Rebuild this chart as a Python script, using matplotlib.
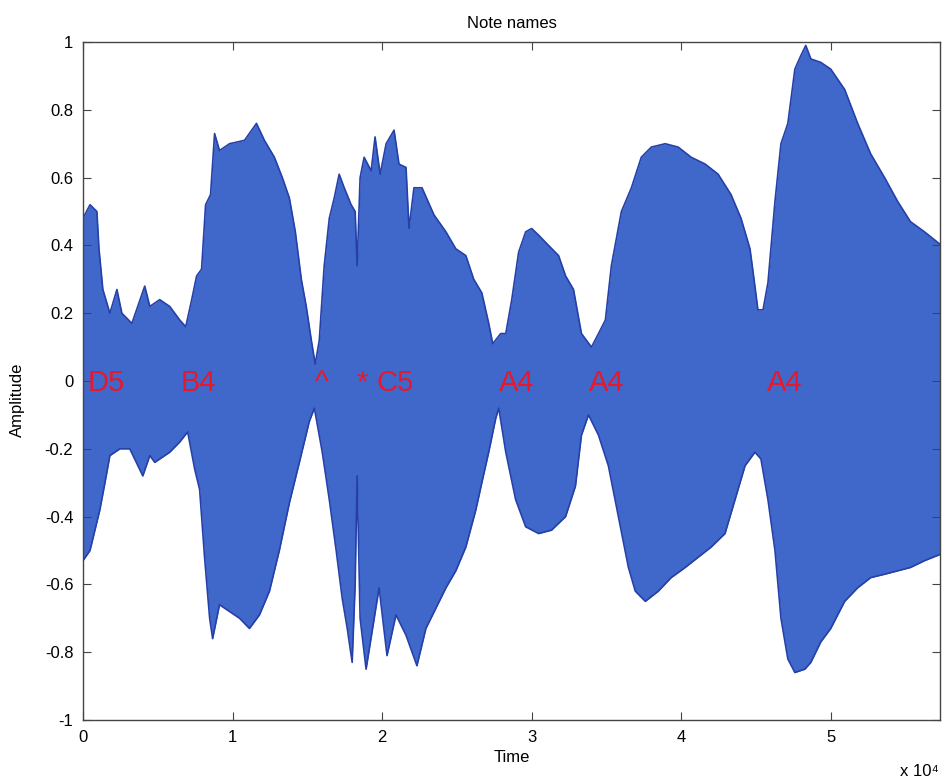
import matplotlib
matplotlib.use('Agg')
import matplotlib.pyplot as plt

# Hüllkurve des Signals (Sample-Index, Amplitude)
upper_t = [0, 470, 930, 1070, 1330, 1800, 2270, 2600, 3270, 4130, 4470, 5130,
           5800, 6470, 6870, 7270, 7600, 7930, 8200, 8530, 8800, 9130, 9800,
           10800, 11600, 12130, 12800, 13330, 13800, 14200, 14600, 14930, 15270,
           15530, 15800, 16130, 16470, 16800, 17130, 17470, 17930, 18200, 18330,
           18530, 18800, 19270, 19530, 19870, 20270, 20800, 21130, 21600, 21800,
           22130, 22670, 23470, 24270, 24930, 25600, 26130, 26670, 27130, 27400,
           27930, 28270, 28670, 29130, 29600, 30000, 30470, 31130, 31800, 32270,
           32800, 33330, 34000, 34470, 34930, 35330, 36000, 36670, 37330, 38000,
           38930, 39800, 40670, 41600, 42470, 43330, 44000, 44600, 44870, 45130,
           45470, 45800, 46270, 46670, 47130, 47600, 48000, 48330, 48670, 49330,
           50000, 50930, 51800, 52670, 53600, 54470, 55330, 56270, 57400]
upper_v = [0.48, 0.52, 0.50, 0.39, 0.27, 0.20, 0.27, 0.20, 0.17, 0.28, 0.22, 0.24,
           0.22, 0.18, 0.16, 0.24, 0.31, 0.33, 0.52, 0.55, 0.73, 0.68, 0.70,
           0.71, 0.76, 0.71, 0.66, 0.60, 0.54, 0.44, 0.30, 0.22, 0.12,
           0.05, 0.12, 0.34, 0.48, 0.54, 0.61, 0.57, 0.52, 0.50, 0.34,
           0.60, 0.66, 0.62, 0.72, 0.61, 0.70, 0.74, 0.64, 0.63, 0.45,
           0.57, 0.57, 0.49, 0.44, 0.39, 0.37, 0.30, 0.26, 0.17, 0.11,
           0.14, 0.14, 0.24, 0.38, 0.44, 0.45, 0.43, 0.40, 0.37, 0.31,
           0.27, 0.14, 0.10, 0.14, 0.18, 0.34, 0.50, 0.57, 0.66, 0.69,
           0.70, 0.69, 0.66, 0.64, 0.61, 0.55, 0.48, 0.39, 0.30, 0.21,
           0.21, 0.29, 0.53, 0.70, 0.76, 0.92, 0.96, 0.99, 0.95, 0.94,
           0.92, 0.86, 0.76, 0.67, 0.60, 0.53, 0.47, 0.44, 0.40]

lower_t = [0, 470, 800, 1130, 1470, 1800, 2470, 3130, 4000, 4470, 4800, 5800,
           6470, 7000, 7470, 7800, 8130, 8470, 8670, 9130, 9800, 10470, 11130,
           11800, 12470, 13130, 13800, 14470, 15130, 15470, 16000, 16470, 16930,
           17330, 17670, 18000, 18200, 18330, 18530, 18930, 19330, 19800, 20330,
           20930, 21600, 22330, 22930, 23600, 24270, 24930, 25600, 26270, 26670,
           27130, 27600, 27800, 28270, 28930, 29600, 30470, 31330, 32270, 32930,
           33330, 33800, 34470, 35130, 35800, 36470, 36930, 37600, 38470, 39330,
           40270, 41130, 42000, 42930, 43600, 44270, 44930, 45330, 45800, 46270,
           46670, 47130, 47600, 48270, 48670, 49330, 50000, 50930, 51800, 52670,
           53600, 54470, 55330, 56270, 57400]
lower_v = [-0.53, -0.50, -0.44, -0.38, -0.30, -0.22, -0.20, -0.20, -0.28, -0.22, -0.24, -0.21,
           -0.18, -0.15, -0.26, -0.32, -0.52, -0.70, -0.76, -0.66, -0.68, -0.70, -0.73,
           -0.69, -0.62, -0.50, -0.36, -0.24, -0.12, -0.08, -0.21, -0.35, -0.50,
           -0.64, -0.73, -0.83, -0.60, -0.28, -0.70, -0.85, -0.74, -0.61, -0.81,
           -0.69, -0.75, -0.84, -0.73, -0.67, -0.61, -0.56, -0.49, -0.38, -0.30,
           -0.21, -0.11, -0.08, -0.21, -0.35, -0.43, -0.45, -0.44, -0.40, -0.31,
           -0.16, -0.10, -0.16, -0.25, -0.40, -0.55, -0.62, -0.65, -0.62, -0.58,
           -0.55, -0.52, -0.49, -0.45, -0.35, -0.25, -0.21, -0.23, -0.35, -0.50,
           -0.70, -0.82, -0.86, -0.85, -0.83, -0.77, -0.73, -0.65, -0.61, -0.58,
           -0.57, -0.56, -0.55, -0.53, -0.51]

# Notennamen und ihre Einsatzpunkte (Sample-Index)
note_names = ['D5', 'B4', '^', '*', 'C5', 'A4', 'A4', 'A4']
note_pos = [300, 6500, 15500, 18300, 19600, 27800, 33800, 45700]

x_ticks = [0, 10000, 20000, 30000, 40000, 50000]
x_ticklabels = ['0', '1', '2', '3', '4', '5']
y_ticks = [-1, -0.8, -0.6, -0.4, -0.2, 0, 0.2, 0.4, 0.6, 0.8, 1]
y_ticklabels = ['-1', '-0.8', '-0.6', '-0.4', '-0.2', '0', '0.2', '0.4', '0.6', '0.8', '1']

plt.rcParams['font.family'] = ['Liberation Sans', 'DejaVu Sans']

fig = plt.figure(figsize=(9.44, 7.81), dpi=100)
ax = fig.add_axes([0.0879, 0.0781, 0.9078, 0.8681])

# beide Hälften etwas überlappen lassen, damit keine Naht bei 0 entsteht
ax.fill_between(upper_t, upper_v, -0.05, color='#3f68ca', lw=0)
ax.fill_between(lower_t, lower_v, 0.05, color='#3f68ca', lw=0)
ax.plot(upper_t, upper_v, color='#2540a8', lw=1.2)
ax.plot(lower_t, lower_v, color='#2540a8', lw=1.2)

for name, pos in zip(note_names, note_pos):
    ax.text(pos, -0.005, name, color='#e8182a', fontsize=21, ha='left', va='center')

ax.set_xlim(0, 57300)
ax.set_ylim(-1, 1)
ax.set_xticks(x_ticks)
ax.set_xticklabels(x_ticklabels)
ax.set_yticks(y_ticks)
ax.set_yticklabels(y_ticklabels)
ax.tick_params(direction='in', length=6, width=0.8, labelsize=12, pad=7,
               top=True, right=True, colors='#444444', labelcolor='black')
for s in ax.spines.values():
    s.set_color('#444444')
    s.set_linewidth(1.0)

ax.set_title('Note names', fontsize=12, pad=10)
ax.set_xlabel('Time', fontsize=12, labelpad=4)
ax.set_ylabel('Amplitude', fontsize=12)
ax.yaxis.set_label_coords(-0.068, 0.472)
fig.text(900 / 944, 1 - 772 / 781, 'x 10\u2074', fontsize=12, ha='left', va='center')

fig.savefig('out.png', dpi=100)
